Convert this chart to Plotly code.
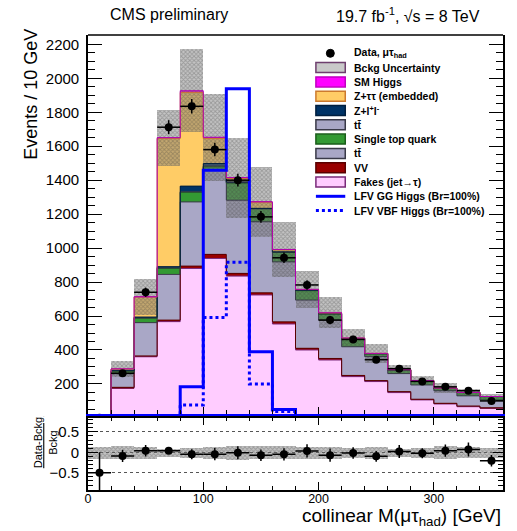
import plotly.graph_objects as go

# ---------------- data ----------------
edges = list(range(0, 380, 20))            # bin edges, GeV
centers = [e + 10 for e in edges[:-1]]     # bin centres, GeV

# background components (events / 10 GeV bin of 20 GeV), stacking order bottom -> top
fakes = [1.5, 175, 360, 567, 880, 939, 835, 724, 553, 400, 341, 243, 214, 149, 106, 82, 66, 57]
vv = [0.1, 5, 5, 9, 14, 24, 16, 13, 13, 10, 9, 7, 6, 6, 4, 4, 4, 3]
ttbar = [0.3, 80, 196, 269, 378, 496, 431, 418, 353, 284, 226, 169, 141, 106, 84, 74, 60, 46]
single_top = [0, 14, 25, 35, 56, 20, 100, 75, 55, 55, 36, 47, 16, 20, 23, 13, 19, 19]
ttbar_2 = [0, 3, 3, 3, 4, 4, 4, 2, 2, 2, 1, 1, 1, 1, 1, 1, 0.5, 1]
z_ll = [0, 3, 5, 8, 33, 15, 4, 2, 2, 1, 1, 1, 1, 1, 1, 1, 0.5, 0]
z_tautau = [0.1, 8, 118, 754, 552, 147, 20, 36, 12, 4, 4, 2, 1, 1, 1, 1, 0, 0]
sm_higgs = [0, 0.5, 2, 5, 10, 8, 5, 3, 2, 1, 1, 0.5, 0, 0, 0, 0, 0, 0]

bkg_unc = [0.3, 45, 105, 165, 245, 255, 235, 205, 160, 108, 92, 55, 55, 28, 28, 28, 20, 16]

data = [1, 263, 740, 1712, 1835, 1580, 1400, 1184, 943, 783, 576, 462, 343, 290, 215, 183, 160, 100]
ratio_err = [0.5, 0.15, 0.14, 0.08, 0.12, 0.15, 0.16, 0.14, 0.15, 0.16, 0.16, 0.14, 0.13, 0.16,
             0.12, 0.15, 0.17, 0.14]

lfv_gg = [0, 0, 0, 0, 184, 1459, 1939, 390, 50, 0, 0, 0, 0, 0, 0, 0, 0, 0]
lfv_vbf = [0, 0, 0, 0, 76, 592, 916, 200, 37, 0, 0, 0, 0, 0, 0, 0, 0, 0]

# ---------------- styling ----------------
FONT = "Liberation Sans, Arial, Helvetica, sans-serif"
components = [
    ("Fakes (jet→τ)", fakes, "#FFCCFF", "#7A2A7A"),
    ("VV", vv, "#990000", "#5A0000"),
    ("tt̄", ttbar, "#A9A7C6", "#3A3A48"),
    ("Single top quark", single_top, "#339933", "#1B5E1B"),
    ("tt̄ ", ttbar_2, "#A9A7C6", "#3A3A48"),
    ("Z+l⁺l⁻", z_ll, "#003366", "#001F3F"),
    ("Z+ττ (embedded)", z_tautau, "#FFCC66", "#CC7A2E"),
    ("SM Higgs", sm_higgs, "#FF00FF", "#B000B0"),
]

fig = go.Figure()

# stacked background histogram (fills)
for name, vals, fill, _ in components:
    fig.add_trace(go.Bar(x=centers, y=vals, width=20, name=name,
                         marker=dict(color=fill, line=dict(width=0)),
                         xaxis="x", yaxis="y", showlegend=False, hoverinfo="skip"))

# cumulative totals for outlines and uncertainty
cum = [0.0] * len(centers)
tops = []
for name, vals, fill, line in components:
    cum = [c + v for c, v in zip(cum, vals)]
    tops.append((list(cum), line))
total = tops[-1][0]

# background uncertainty band, centred on the stack total
unc_style = dict(color="rgba(125,125,125,0.45)",
                 pattern=dict(shape="x", size=3, solidity=0.5,
                              fgcolor="rgba(55,55,55,0.6)", fillmode="overlay"),
                 line=dict(width=0))
fig.add_trace(go.Bar(x=centers, y=[2 * u for u in bkg_unc],
                     base=[t - u for t, u in zip(total, bkg_unc)], width=20,
                     marker=unc_style, xaxis="x", yaxis="y",
                     showlegend=False, hoverinfo="skip"))

# histogram outlines (step lines on top of each stacked component)
for cumvals, line in tops:
    fig.add_trace(go.Scatter(x=edges, y=cumvals + [cumvals[-1]], mode="lines",
                             line=dict(color=line, width=1, shape="hv"),
                             xaxis="x", yaxis="y", showlegend=False, hoverinfo="skip"))

# LFV signal histograms
fig.add_trace(go.Scatter(x=edges, y=lfv_gg + [lfv_gg[-1]], mode="lines",
                         line=dict(color="#0000FF", width=3, shape="hv"),
                         xaxis="x", yaxis="y", showlegend=False))
fig.add_trace(go.Scatter(x=edges, y=lfv_vbf + [lfv_vbf[-1]], mode="lines",
                         line=dict(color="#0000FF", width=3, shape="hv", dash="dot"),
                         xaxis="x", yaxis="y", showlegend=False))

# observed data
fig.add_trace(go.Scatter(x=centers, y=data, mode="markers",
                         marker=dict(color="black", size=8),
                         error_y=dict(type="sqrt", color="black", thickness=1.5, width=0),
                         error_x=dict(type="constant", value=10, color="black",
                                      thickness=1.5, width=0),
                         xaxis="x", yaxis="y", showlegend=False))

# ---------------- ratio panel ----------------
rel_unc = [u / t for u, t in zip(bkg_unc, total)]
ratio = [(d - t) / t for d, t in zip(data, total)]

fig.add_trace(go.Bar(x=centers, y=[2 * r for r in rel_unc], base=[-r for r in rel_unc],
                     width=20, marker=unc_style, xaxis="x2", yaxis="y2",
                     showlegend=False, hoverinfo="skip"))
fig.add_trace(go.Scatter(x=centers, y=ratio, mode="markers",
                         marker=dict(color="black", size=8),
                         error_y=dict(type="data", array=ratio_err, color="black",
                                      thickness=1.5, width=0),
                         error_x=dict(type="constant", value=10, color="black",
                                      thickness=1.5, width=0),
                         xaxis="x2", yaxis="y2", showlegend=False))

# ---------------- layout ----------------
L, R, T, B = 88, 12, 35, 41
W, H = 517, 531
PW, PH = W - L - R, H - T - B


def px(xp):
    return (xp - L) / PW


def py(yp):
    return (H - B - yp) / PH


main_bottom = py(414)
ratio_top = py(417.5)

tickfont = dict(family=FONT, size=15, color="black")

fig.update_layout(
    width=W, height=H,
    margin=dict(l=L, r=R, t=T, b=B),
    paper_bgcolor="white", plot_bgcolor="white",
    barmode="stack", bargap=0, showlegend=False,
    font=dict(family=FONT, color="black"),
    xaxis=dict(domain=[0, 1], anchor="y", range=[0, 360], showticklabels=False,
               showline=True, linecolor="#0000FF", linewidth=3, mirror=False,
               ticks="inside", tickcolor="black", ticklen=7, dtick=100, tick0=0,
               minor=dict(ticks="inside", ticklen=4, dtick=20, tickcolor="black"),
               showgrid=False, zeroline=False),
    yaxis=dict(domain=[main_bottom, 1], anchor="x", range=[23, 2255],
               showline=True, linecolor="black", linewidth=1.6, mirror="ticks",
               ticks="inside", ticklen=14, tickcolor="black", tickwidth=1.3,
               dtick=200, tick0=0, tickfont=tickfont, ticklabelstandoff=4,
               minor=dict(ticks="inside", ticklen=7, dtick=50, tickcolor="black"),
               showgrid=False, zeroline=False),
    xaxis2=dict(domain=[0, 1], anchor="y2", matches="x", range=[0, 360],
                showline=True, linecolor="black", linewidth=1.6, mirror="ticks",
                ticks="inside", ticklen=8, tickcolor="black", dtick=100, tick0=0,
                tickfont=dict(family=FONT, size=12.5, color="black"),
                ticklabelstandoff=-4,
                minor=dict(ticks="inside", ticklen=4, dtick=20, tickcolor="black"),
                showgrid=False, zeroline=False),
    yaxis2=dict(domain=[0, ratio_top], anchor="x2", range=[-0.92, 0.85],
                showline=True, linecolor="black", linewidth=1.6, mirror="ticks",
                ticks="inside", ticklen=10, tickcolor="black", dtick=0.5, tick0=0,
                tickfont=tickfont, ticklabelstandoff=4,
                minor=dict(ticks="inside", ticklen=5, dtick=0.1, tickcolor="black"),
                showgrid=True, gridcolor="#555555", griddash="dot", gridwidth=1,
                zeroline=False),
)

shapes = [
    # top border of the main panel
    dict(type="line", xref="x domain", yref="y domain", x0=0, x1=1, y0=1, y1=1,
         line=dict(color="black", width=1.6)),
]
annotations = [
    dict(text="CMS preliminary", x=px(108), y=py(15), xanchor="left", yanchor="middle",
         font=dict(size=16)),
    dict(text="19.7 fb<sup>-1</sup>, √s = 8 TeV", x=px(484), y=py(15),
         xanchor="right", yanchor="middle", font=dict(size=16)),
    dict(text="Events / 10 GeV", textangle=-90, x=px(30), y=py(27),
         xanchor="center", yanchor="top", font=dict(size=18)),
    dict(text="<u>Data-Bckg</u><br>Bckg", textangle=-90, x=px(45), y=py(443),
         xanchor="center", yanchor="middle", font=dict(size=11)),
    dict(text="collinear M(μτ<sub>had</sub>) [GeV]", x=px(505), y=py(531),
         xanchor="right", yanchor="bottom", font=dict(size=19)),
]

# legend block
legend_items = [
    ("Data, μτ<sub>had</sub>", "marker", "black", "black"),
    ("Bckg Uncertainty", "box", "#C9C9C9", "#6E3F6E"),
    ("SM Higgs", "box", "#FF00FF", "#C000C0"),
    ("Z+ττ (embedded)", "box", "#FFCC66", "#CC7A2E"),
    ("Z+l<sup>+</sup>l<sup>-</sup>", "box", "#003366", "#001F3F"),
    ("tt̄", "box", "#A9A7C6", "#3A3A48"),
    ("Single top quark", "box", "#339933", "#1B5E1B"),
    ("tt̄", "box", "#A9A7C6", "#3A3A48"),
    ("VV", "box", "#990000", "#5A0000"),
    ("Fakes (jet→τ)", "box", "#FFCCFF", "#7A2A7A"),
    ("LFV GG Higgs (Br=100%)", "solid", "#0000FF", "#0000FF"),
    ("LFV VBF Higgs (Br=100%)", "dot", "#0000FF", "#0000FF"),
]
for i, (label, kind, fill, line) in enumerate(legend_items):
    yc = 53.3 + 14.3 * i
    if kind == "box":
        shapes.append(dict(type="rect", xref="paper", yref="paper",
                           x0=px(317), x1=px(346.5), y0=py(yc + 5), y1=py(yc - 5),
                           fillcolor=fill, line=dict(color=line, width=1.5)))
    elif kind == "marker":
        shapes.append(dict(type="circle", xref="paper", yref="paper",
                           x0=px(327.5), x1=px(335.5), y0=py(yc + 4), y1=py(yc - 4),
                           fillcolor="black", line=dict(color="black", width=1)))
    else:
        shapes.append(dict(type="line", xref="paper", yref="paper",
                           x0=px(317), x1=px(346.5), y0=py(yc), y1=py(yc),
                           line=dict(color=fill, width=3,
                                     dash="solid" if kind == "solid" else "dot")))
    annotations.append(dict(text="<b>" + label + "</b>", x=px(353), y=py(yc),
                            xanchor="left", yanchor="middle",
                            font=dict(size=10.5)))

for a in annotations:
    a.update(xref="paper", yref="paper", showarrow=False)
fig.update_layout(shapes=shapes, annotations=annotations)

fig.write_html("out.html")
